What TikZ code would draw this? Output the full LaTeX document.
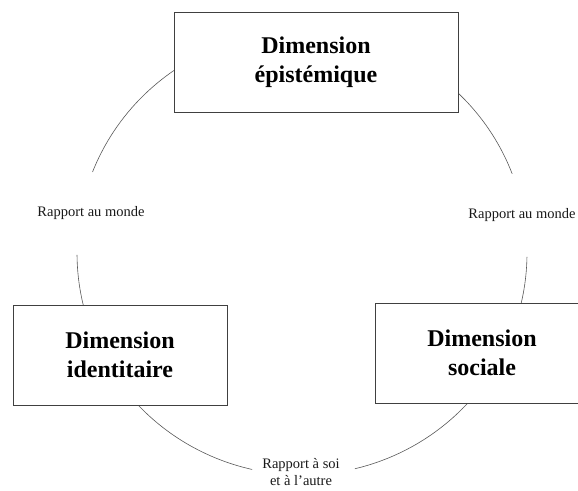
\documentclass[tikz,border=0pt]{standalone}
\usepackage{fontspec}
\setmainfont{Liberation Serif}
\begin{document}
\begin{tikzpicture}[x=1pt,y=1pt,
  dimbox/.style={draw=black!75, line width=0.8pt, fill=white, minimum height=100pt, inner sep=0pt,
    align=center, font=\bfseries\fontsize{24}{29}\selectfont},
  relabel/.style={align=center, font=\fontsize{14.5}{17.5}\selectfont, text=black!90, inner sep=1pt},
  ring/.style={draw=black!65, line width=0.6pt}]
\useasboundingbox (0,0) rectangle (578,490);
\clip (0,0) rectangle (578,490);
\coordinate (C) at (302,237);
% ring segments
\draw[ring] ([shift={(20.9:225pt and 222pt)}]C) arc[start angle=20.9, end angle=158.6, x radius=225pt, y radius=222pt];
\draw[ring] ([shift={(180.5:225pt and 222pt)}]C) arc[start angle=180.5, end angle=257.2, x radius=225pt, y radius=222pt];
\draw[ring] ([shift={(283.6:225pt and 222pt)}]C) arc[start angle=283.6, end angle=359, x radius=225pt, y radius=222pt];
% boxes
\node[dimbox, minimum width=284pt] (epi) at (316,428) {Dimension\\épistémique};
\node[dimbox, minimum width=214pt] (ide) at (120,135) {Dimension\\identitaire};
\node[dimbox, minimum width=214pt] (soc) at (482,137) {Dimension\\sociale};
% labels
\node[relabel] (l1) at (91,277) {Rapport au monde};
\node[relabel] (l2) at (522,275) {Rapport au monde};
\node[relabel] (l3) at (301,18) {Rapport à soi\\et à l’autre};
\end{tikzpicture}
\end{document}
